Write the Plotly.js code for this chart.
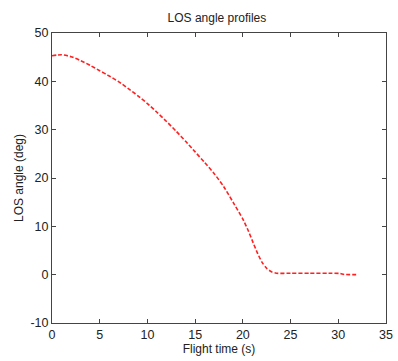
<!DOCTYPE html>
<html>
<head>
<meta charset="utf-8">
<script src="https://cdn.plot.ly/plotly-3.0.1.min.js"></script>
<style>html,body{margin:0;padding:0;background:#fff;}#chart{width:398px;height:361px;}</style>
</head>
<body>
<div id="chart"></div>
<script>
const flightTime = [0, 1, 2, 3, 4, 5, 6, 7, 8, 9, 10, 11, 12, 13, 14, 15, 16, 17, 18, 19, 20, 20.5, 21, 21.5, 22, 22.5, 23, 23.5, 25, 27, 29, 30.2, 30.6, 32.1];
const losAngle = [45.3, 45.5, 45.1, 44.3, 43.3, 42.2, 41.1, 39.9, 38.5, 37.0, 35.4, 33.6, 31.7, 29.7, 27.6, 25.4, 23.2, 20.9, 18.2, 14.9, 11.5, 9.4, 7.0, 4.6, 2.6, 1.3, 0.6, 0.3, 0.3, 0.3, 0.3, 0.25, 0.05, 0.0];
const xTicks = [0, 5, 10, 15, 20, 25, 30, 35];
const yTicks = [-10, 0, 10, 20, 30, 40, 50];

const font = {family: 'Liberation Sans, Arial, sans-serif', size: 12, color: '#222'};
const axisCommon = {
  showgrid: false, zeroline: false, showline: true, mirror: 'ticks',
  linecolor: '#444', linewidth: 1, ticks: 'inside', ticklen: 4, tickcolor: '#444',
  tickfont: {family: font.family, size: 12.5, color: '#222'}
};
Plotly.newPlot('chart', [{
  x: flightTime, y: losAngle, mode: 'lines', type: 'scatter',
  line: {color: '#ff2020', width: 1.6, dash: '4px,2px', shape: 'spline', smoothing: 0.6}
}], {
  width: 398, height: 361,
  margin: {l: 52, r: 12, t: 33, b: 38},
  paper_bgcolor: '#fff', plot_bgcolor: '#fff',
  font: font, showlegend: false,
  title: {text: 'LOS angle profiles', x: 0.545, xanchor: 'center', yref: 'container', y: 0.95, yanchor: 'middle', font: {family: font.family, size: 12, color: '#222'}},
  xaxis: Object.assign({}, axisCommon, {range: [0, 35], tickvals: xTicks, ticktext: xTicks.map(String),
    title: {text: 'Flight time (s)', font: {family: font.family, size: 12, color: '#222'}, standoff: 2}}),
  yaxis: Object.assign({}, axisCommon, {range: [-10, 50], tickvals: yTicks, ticktext: yTicks.map(String),
    title: {text: 'LOS angle (deg)', font: {family: font.family, size: 12, color: '#222'}, standoff: 4}})
}, {staticPlot: true});
</script>
</body>
</html>
